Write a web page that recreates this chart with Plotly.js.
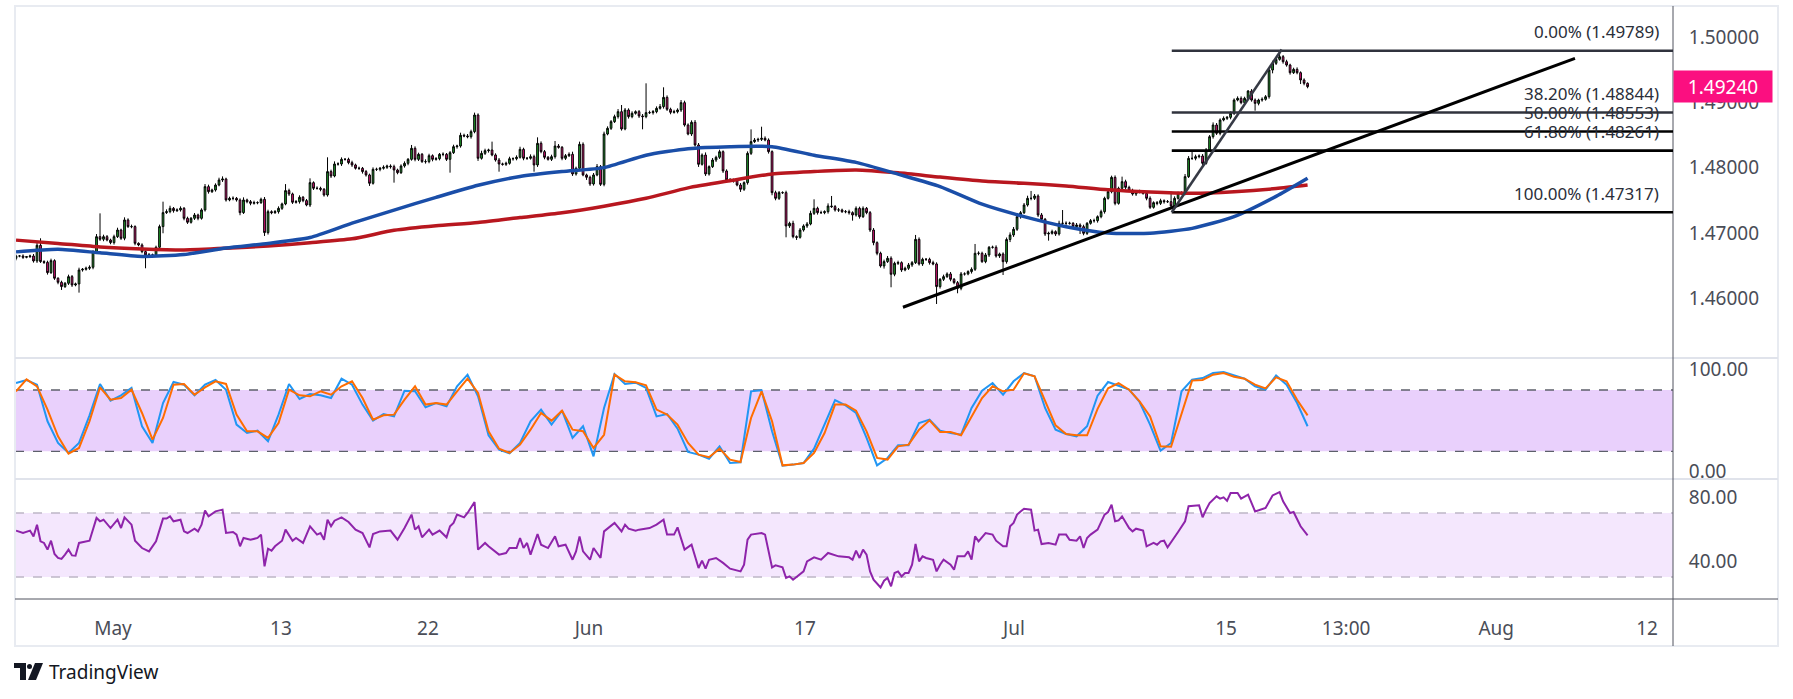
<!DOCTYPE html>
<html>
<head>
<meta charset="utf-8">
<script src="https://cdn.plot.ly/plotly-3.0.1.min.js"></script>
<style>html,body{margin:0;padding:0;background:#fff}#chart{width:1793px;height:699px}</style>
</head>
<body>
<div id="chart"></div>
<script>
// ---------------- DATA (4H bars, prices in 1e-5 units above 1.40000) ----------------
const PRICE_BASE = 1.4;
const PRICE_STEP = 0.00001;
const firstOpenRaw = 6611;
const closeRaw = [
6647,6647,6627,6637,6647,6571,6811,6561,6550,6392,
6576,6306,6244,6178,6229,6331,6203,6219,6433,6443,
6459,6474,6714,6943,6903,6943,6892,6852,6943,7045,
6918,7199,7097,7097,6841,6816,6714,6663,6663,6663,
6780,7097,7311,7326,7377,7341,7352,7377,7224,7163,
7224,7275,7224,7352,7709,7632,7658,7734,7811,7826,
7505,7530,7530,7505,7311,7505,7479,7454,7464,7464,
7515,7005,7326,7311,7326,7377,7444,7648,7597,7469,
7479,7546,7495,7428,7770,7683,7683,7668,7581,7939,
7872,8056,8056,8127,8127,8076,8041,7990,7990,7939,
7888,7760,7974,7974,7990,8005,8025,8015,7964,7923,
8025,8066,8127,8296,8127,8204,8092,8092,8183,8127,
8137,8204,8204,8127,8229,8321,8331,8495,8485,8474,
8551,8806,8143,8219,8260,8270,8194,8117,8056,8051,
8066,8137,8137,8158,8280,8143,8143,8168,8041,8372,
8245,8158,8127,8168,8331,8311,8143,8183,8204,7903,
7990,8357,7888,7852,7750,7888,8015,7744,8515,8602,
8704,8781,8857,8592,8883,8781,8832,8857,8791,8781,
8842,8842,8857,8908,8934,9076,8893,8847,8856,8883,
8995,8653,8515,8694,8347,8051,8193,7903,8015,8117,
8158,8244,7949,7811,7811,7801,7734,7668,7770,8219,
8398,8423,8433,8449,8423,8245,7617,7530,7617,7617,
7107,7147,6943,6933,7045,7107,7137,7300,7377,7311,
7311,7326,7413,7403,7352,7352,7326,7326,7311,7275,
7377,7249,7377,7311,7045,6851,6688,6494,6561,6612,
6367,6535,6545,6433,6459,6510,6545,6902,6525,6596,
6596,6545,6525,6178,6290,6331,6372,6290,6239,6152,
6372,6372,6408,6443,6688,6688,6561,6663,6780,6780,
6647,6678,6560,6900,6969,7056,7249,7310,7428,7530,
7530,7566,7275,7209,6984,6994,7020,6984,7147,7147,
7147,7147,7096,7122,7096,6994,7147,7188,7188,7249,
7326,7530,7632,7851,7453,7683,7785,7698,7647,7596,
7632,7632,7606,7530,7392,7464,7453,7494,7479,7479,
7413,7530,7607,7607,7862,8142,8142,8168,8178,8066,
8270,8474,8653,8525,8729,8755,8770,8831,9035,9061,
8995,9061,9173,9035,8984,9035,9046,9086,9495,9597,
9658,9699,9622,9571,9454,9505,9454,9342,9291,9240
];
const upWickRaw = [
20,15,25,10,20,30,40,107,20,25,
30,20,15,25,20,30,25,20,35,20,
25,30,20,40,357,30,25,20,30,35,
20,40,25,30,20,15,25,20,30,20,
25,30,168,35,40,20,25,30,20,25,
20,30,20,25,40,30,20,25,35,40,
20,25,30,20,25,40,20,25,30,20,
25,35,30,20,25,30,20,100,30,20,
25,30,20,25,66,20,30,25,20,219,
30,40,25,30,20,25,30,20,25,20,
25,20,30,25,20,30,20,25,30,20,
25,30,20,51,30,25,20,35,30,20,
25,20,30,20,25,30,20,40,25,30,
30,36,25,40,30,20,128,25,30,20,
25,30,20,30,40,25,20,35,30,92,
30,25,20,30,77,30,20,25,30,40,
25,41,30,20,25,30,40,25,36,30,
25,30,40,102,30,25,30,20,25,30,
449,30,25,30,40,154,30,25,30,25,
40,30,25,30,35,30,25,40,20,30,
25,30,20,25,30,20,25,30,20,30,
188,30,25,178,30,25,20,30,25,20,
30,25,40,20,30,25,30,40,138,25,
30,20,40,153,25,30,20,25,30,20,
30,25,30,20,25,30,20,25,30,35,
30,25,30,20,25,30,25,67,30,25,
20,25,30,25,20,30,25,30,20,25,
30,25,20,30,143,30,25,30,20,25,
30,20,25,30,40,35,30,25,30,40,
113,30,25,30,20,25,30,20,40,204,
30,25,20,30,25,30,20,25,30,20,
30,25,40,26,30,25,77,30,25,30,
25,30,20,25,30,20,25,30,20,25,
153,30,25,30,40,35,102,30,25,30,
30,25,40,30,25,30,20,30,25,30,
30,25,15,30,25,20,30,25,30,40,
30,90,25,30,20,25,30,20,25,15
];
const downWickRaw = [
30,20,25,15,20,25,30,20,25,30,
20,25,30,51,20,25,30,20,133,25,
20,25,30,20,25,30,20,25,30,20,
25,30,20,25,30,20,25,204,30,25,
30,25,102,20,25,30,20,25,30,25,
20,25,30,20,25,30,20,25,20,30,
25,20,30,25,40,20,25,30,20,25,
20,51,30,25,20,30,25,20,30,25,
20,30,25,20,30,25,20,30,25,25,
30,20,25,30,20,25,30,20,25,30,
25,40,20,25,30,20,25,30,194,25,
20,25,30,20,30,25,20,30,25,30,
20,25,30,25,204,20,30,25,20,25,
30,25,40,20,25,30,20,25,118,20,
25,20,30,25,20,30,25,20,103,30,
25,30,20,25,30,20,30,25,20,30,
25,30,20,40,30,25,20,25,30,20,
25,20,30,25,20,30,25,20,30,194,
25,20,30,25,20,30,25,30,20,25,
30,25,20,30,25,40,20,30,25,20,
30,25,30,20,25,30,20,40,25,30,
25,20,30,25,20,30,40,30,25,20,
174,30,25,40,20,25,30,20,25,30,
20,25,30,20,25,30,20,25,30,87,
25,30,20,25,30,40,30,25,40,20,
199,30,25,30,20,25,30,20,25,30,
25,30,20,266,30,25,20,30,25,76,
30,25,20,30,25,30,20,25,30,20,
25,30,204,30,40,30,25,30,20,25,
30,25,30,25,30,102,20,30,25,30,
25,20,30,25,112,30,25,20,30,30,
25,30,20,25,30,20,25,30,20,25,
30,25,20,30,25,20,30,25,30,20,
25,30,20,25,30,20,25,30,25,30,
20,25,30,25,30,20,25,30,25,20,
25,30,20,25,112,30,25,20,30,51,
25,20,30,25,30,20,25,62,30,25
];

// Moving averages (read at sampled bars)
const maIdx   = [0,12,24,36,48,60,72,84,96,108,120,132,144,156,168,180,192,204,216,228,240,252,264,276,288,300,312,324,336,348,360,369];
const maBlueRaw = [6710,6750,6695,6640,6670,6770,6840,6930,7150,7350,7545,7730,7865,7940,8000,8190,8290,8321,8321,8190,8080,7900,7710,7440,7250,7096,7000,6995,7070,7250,7560,7837];
const maRedRaw  = [6890,6840,6785,6755,6740,6765,6800,6850,6910,7040,7110,7160,7235,7310,7410,7530,7690,7800,7903,7940,7964,7920,7855,7795,7760,7719,7660,7625,7607,7632,7680,7734];

// Stochastic RSI, sampled every 3rd bar
const STOCH_STEP = 3;
const stochK = [
86.8,89.8,85.2,49.4,28.2,18.4,28.2,55.2,85.9,69.6,
74.8,82.0,44.5,28.2,67.3,87.8,85.2,74.8,85.2,89.8,
80.3,46.1,37.9,40.2,29.8,55.9,85.9,71.2,76.1,74.8,
72.2,91.1,85.2,65.7,50.0,56.5,54.2,79.3,78.7,63.0,
67.3,64.0,83.6,95.0,73.8,35.7,21.6,18.1,28.2,49.4,
60.8,46.1,59.8,33.1,44.5,15.1,62.4,95.6,85.9,87.2,
82.0,54.2,56.5,42.2,19.4,16.8,12.8,24.9,8.6,9.3,
78.7,79.7,39.6,6.0,7.0,8.6,22.6,46.7,70.2,65.0,
57.5,33.1,6.3,13.5,25.9,25.9,47.7,51.0,40.2,37.9,
36.3,62.4,79.3,86.8,75.4,88.5,96.6,93.4,62.4,41.2,
37.0,34.7,44.5,74.5,87.8,84.2,80.3,68.3,46.1,20.7,
28.2,78.7,90.1,91.7,96.6,97.6,94.3,91.1,83.6,80.3,
94.3,85.2,67.3,44.5
];
const stochD = [
78.7,90.4,83.6,60.8,34.7,17.7,23.3,49.4,82.6,70.5,
72.2,80.3,57.5,31.4,52.6,85.2,85.9,75.4,82.6,88.5,
85.9,55.9,39.6,39.6,33.1,47.7,80.3,74.8,73.8,78.7,
75.4,83.6,88.5,72.2,51.0,55.2,55.9,70.5,83.6,65.7,
67.3,65.7,78.7,91.1,77.1,39.6,22.6,18.4,26.5,41.2,
57.5,50.0,59.8,41.2,39.6,23.3,36.2,95.0,88.5,87.5,
84.6,60.8,55.9,46.1,28.2,16.8,14.2,22.6,11.9,9.6,
52.6,78.7,49.4,6.3,7.0,8.6,18.4,37.9,65.7,65.7,
59.8,39.6,13.5,11.9,24.9,26.5,41.2,50.3,38.9,38.9,
35.7,54.2,72.2,83.6,78.7,80.3,96.3,93.4,68.9,45.4,
37.0,35.7,35.7,61.5,81.6,86.8,80.3,68.9,54.2,24.9,
24.5,57.5,89.2,89.8,95.0,96.6,93.0,91.1,85.2,81.6,
92.4,88.5,70.5,55.2
];

// RSI vertices (bar index, value)
const rsiIdx = [0,2,4,5,6,7,8,9,10,11,12,13,14,15,16,17,18,21,23,24,25,27,29,30,31,33,34,36,38,40,42,43,44,45,47,48,49,51,52,53,54,55,57,59,60,62,63,64,65,67,69,70,71,72,73,74,76,77,79,80,82,84,86,87,88,89,90,91,93,95,97,99,101,102,104,107,109,111,113,114,115,116,118,119,121,123,124,125,126,128,129,131,132,134,135,138,140,141,143,144,145,146,147,149,150,152,154,155,157,159,160,161,162,164,165,167,168,171,173,174,175,177,178,181,183,185,186,188,189,191,193,195,196,197,198,200,202,204,207,208,209,210,213,214,216,217,219,220,221,222,225,226,228,230,232,235,238,239,240,241,242,243,244,245,247,248,249,250,251,252,253,254,255,256,257,258,259,260,262,263,264,265,267,268,269,271,272,273,274,275,277,279,280,282,283,284,285,286,287,288,290,291,292,293,295,297,298,300,301,303,304,305,306,307,309,311,312,313,314,315,316,318,319,320,322,323,325,326,327,328,329,331,332,334,335,338,339,340,341,343,344,345,346,347,349,350,352,354,357,359,361,362,364,365,367,369];
const rsiVal = [59.0,57.5,59.0,55.4,62.7,52.3,51.3,47.1,52.7,44.4,41.9,41.3,44.0,47.1,43.5,43.3,51.3,52.7,66.9,64.8,65.8,60.6,65.8,60.6,67.3,62.7,52.7,48.1,46.0,52.3,66.5,66.5,67.9,64.8,65.8,58.5,57.5,60.2,58.5,62.7,71.5,67.9,71.0,72.1,57.5,58.1,56.5,49.2,54.4,53.3,54.4,56.5,36.7,47.7,46.5,49.2,52.7,59.6,52.7,54.4,51.3,61.7,56.5,57.5,53.3,65.8,61.7,65.2,67.3,64.4,59.6,57.5,48.5,56.9,58.5,59.0,53.3,60.6,69.0,59.6,61.7,54.8,59.6,56.5,59.0,54.8,61.7,63.8,69.0,67.3,70.0,76.9,47.1,51.3,49.2,44.0,45.0,48.1,48.1,54.4,48.1,51.3,44.0,56.9,50.2,48.1,55.4,49.2,50.2,40.8,46.0,55.4,46.0,40.8,48.1,41.9,58.5,63.8,58.5,62.7,60.2,59.0,59.6,60.6,62.7,65.8,56.5,56.5,61.0,47.1,50.2,35.6,40.2,35.2,40.8,41.9,38.8,35.2,33.5,37.7,53.3,56.5,57.5,56.5,36.0,37.3,36.0,29.4,30.4,28.3,33.5,39.8,42.3,40.8,45.0,42.9,42.3,40.8,46.5,41.9,47.1,44.0,33.5,28.3,23.5,27.7,29.4,24.2,32.5,33.5,30.4,32.5,32.5,37.7,50.6,39.8,42.9,41.9,40.8,33.5,37.7,40.8,37.7,34.6,42.9,42.9,46.0,40.8,55.4,52.3,57.5,56.5,52.7,49.2,49.2,61.7,63.8,69.0,71.0,72.7,72.1,59.0,59.6,50.6,51.3,50.2,56.5,56.5,53.3,52.7,55.4,48.1,54.4,56.5,59.6,69.0,70.6,75.2,64.8,65.4,67.9,60.6,58.5,60.2,59.0,49.2,51.3,50.2,52.3,52.7,48.5,54.4,58.1,64.8,74.2,74.8,67.3,72.1,76.2,80.4,79.0,79.8,77.7,82.5,82.5,79.0,81.5,71.0,73.1,81.0,83.1,77.3,70.0,70.6,61.7,56.0];

// Fibonacci retracement and drawings
const fibLevels = [0, 0.382, 0.5, 0.618, 1.0];
const fibPrices = [1.49789, 1.48844, 1.48553, 1.48261, 1.47317];
const fibStartIdx = 330.2;
const trendLong  = {idx: [253.4, 445.4], price: [1.45862, 1.49674]};
const trendSteep = {idx: [330.2, 361.6], price: [1.47317, 1.49810]};

// Axis ticks
const dateTickPos  = [27.7, 75.7, 117.7, 163.7, 225.4, 285.1, 345.7, 380, 422.9, 466];
const dateTickText = ['May','13','22','Jun','17','Jul','15','13:00','Aug','12'];
const priceTicks = [1.46, 1.47, 1.48, 1.49, 1.50];
const stochTicks = [0, 100];
const rsiTicks = [40, 80];

// ---------------- BUILD ----------------
const W = 1793, H = 699;
const PX = p => p / W, PY = p => 1 - p / H;
const toPrice = v => +(PRICE_BASE + v * PRICE_STEP).toFixed(5);

const idx = closeRaw.map((_, i) => i);
const close = closeRaw.map(toPrice);
const open = close.map((c, i) => i === 0 ? toPrice(firstOpenRaw) : close[i - 1]);
const high = close.map((c, i) => Math.max(open[i], c) + upWickRaw[i] * PRICE_STEP);
const low = close.map((c, i) => Math.min(open[i], c) - downWickRaw[i] * PRICE_STEP);
const stochX = stochK.map((_, k) => k * STOCH_STEP);
const lastClose = close[close.length - 1];

const L = 15, R = 1673, RR = 1778;
const xRange = [-0.29, 473.4];

const traces = [
  {type:'candlestick', x: idx, open, high, low, close, xaxis:'x', yaxis:'y',
   increasing:{line:{color:'#000000', width:1}, fillcolor:'#22a62e'},
   decreasing:{line:{color:'#000000', width:1}, fillcolor:'#ec1280'},
   whiskerwidth:0, hoverinfo:'skip'},
  {type:'scatter', mode:'lines', x: maIdx, y: maRedRaw.map(toPrice), xaxis:'x', yaxis:'y',
   line:{color:'#b8171f', width:3.5, shape:'spline', smoothing:0.6}, hoverinfo:'skip'},
  {type:'scatter', mode:'lines', x: maIdx, y: maBlueRaw.map(toPrice), xaxis:'x', yaxis:'y',
   line:{color:'#1a4ea8', width:3.5, shape:'spline', smoothing:0.6}, hoverinfo:'skip'},
  {type:'scatter', mode:'lines', x: stochX, y: stochK, xaxis:'x2', yaxis:'y2',
   line:{color:'#2196f3', width:2}, hoverinfo:'skip'},
  {type:'scatter', mode:'lines', x: stochX, y: stochD, xaxis:'x2', yaxis:'y2',
   line:{color:'#ff6d00', width:2}, hoverinfo:'skip'},
  {type:'scatter', mode:'lines', x: rsiIdx, y: rsiVal, xaxis:'x3', yaxis:'y3',
   line:{color:'#8e24aa', width:2}, hoverinfo:'skip'}
];

const tickFont = {family:'Noto Sans, DejaVu Sans, sans-serif', size:19, color:'#4a4d57'};
const baseX = {domain:[PX(L), PX(R)], range:xRange, showgrid:false, zeroline:false, showline:false,
  showticklabels:false, fixedrange:true};
const baseY = {side:'right', showgrid:false, zeroline:false, showline:false, ticks:'outside',
  ticklen:11, tickcolor:'rgba(0,0,0,0)', tickfont:tickFont, fixedrange:true};

const shapes = [];
// indicator bands
shapes.push({type:'rect', xref:'paper', yref:'y2', x0:PX(L), x1:PX(R), y0:20, y1:80,
  fillcolor:'#e9d0fc', line:{width:0}, layer:'below'});
[80, 20].forEach(v => shapes.push({type:'line', xref:'paper', yref:'y2', x0:PX(L), x1:PX(R), y0:v, y1:v,
  line:{color:'#5d606b', width:1.3, dash:'dash'}, layer:'below'}));
shapes.push({type:'rect', xref:'paper', yref:'y3', x0:PX(L), x1:PX(R), y0:30, y1:70,
  fillcolor:'#f4e7fd', line:{width:0}, layer:'below'});
[70, 30].forEach(v => shapes.push({type:'line', xref:'paper', yref:'y3', x0:PX(L), x1:PX(R), y0:v, y1:v,
  line:{color:'#bdb6c6', width:1.3, dash:'dash'}, layer:'below'}));
// panel frame
shapes.push({type:'rect', xref:'paper', yref:'paper', x0:PX(L), x1:PX(RR), y0:PY(646), y1:PY(6),
  line:{color:'#e8ebf1', width:2}, fillcolor:'rgba(0,0,0,0)'});
[358, 479].forEach(p => shapes.push({type:'line', xref:'paper', yref:'paper', x0:PX(L), x1:PX(RR), y0:PY(p), y1:PY(p),
  line:{color:'#e0e3eb', width:2}}));
shapes.push({type:'line', xref:'paper', yref:'paper', x0:PX(R), x1:PX(R), y0:PY(646), y1:PY(6),
  line:{color:'#50535e', width:1}});
shapes.push({type:'line', xref:'paper', yref:'paper', x0:PX(L), x1:PX(RR), y0:PY(599), y1:PY(599),
  line:{color:'#50535e', width:1}});
// fib lines
fibPrices.forEach((p, k) => shapes.push({type:'line', xref:'x', yref:'y', x0:fibStartIdx, x1:xRange[1], y0:p, y1:p,
  line:{color: k < 2 ? '#30333d' : '#000000', width:2.6}}));
// trend lines
shapes.push({type:'line', xref:'x', yref:'y', x0:trendLong.idx[0], x1:trendLong.idx[1],
  y0:trendLong.price[0], y1:trendLong.price[1], line:{color:'#000000', width:3}});
shapes.push({type:'line', xref:'x', yref:'y', x0:trendSteep.idx[0], x1:trendSteep.idx[1],
  y0:trendSteep.price[0], y1:trendSteep.price[1], line:{color:'#363a45', width:2.6}});
// TradingView logo glyph
const P = (x, y) => `${PX(x)},${PY(y)}`;
shapes.push({type:'path', xref:'paper', yref:'paper', fillcolor:'#131722', line:{width:0},
  path:`M${P(14,663)} L${P(26,663)} L${P(26,680)} L${P(20,680)} L${P(20,668)} L${P(14,668)} Z`});
shapes.push({type:'circle', xref:'paper', yref:'paper', fillcolor:'#131722', line:{width:0},
  x0:PX(27), x1:PX(32), y0:PY(669), y1:PY(664)});
shapes.push({type:'path', xref:'paper', yref:'paper', fillcolor:'#131722', line:{width:0},
  path:`M${P(35,663)} L${P(43,663)} L${P(36,680)} L${P(28,680)} Z`});

const annotations = [];
fibPrices.forEach((p, k) => annotations.push({xref:'paper', yref:'y', x:PX(1661), y:p, xanchor:'right',
  yanchor:'middle', yshift:19, showarrow:false,
  text:`${(fibLevels[k] * 100).toFixed(2)}% (${p.toFixed(5)})`,
  font:{family:'Noto Sans, DejaVu Sans, sans-serif', size:17, color:'#2a2e39'}}));
annotations.push({xref:'paper', yref:'y', x:PX(R), y:lastClose, xanchor:'left', yanchor:'middle',
  showarrow:false, text:lastClose.toFixed(5), bgcolor:'#fb0f80', borderpad:2, width:94, height:27,
  align:'center', font:{family:'Noto Sans, DejaVu Sans, sans-serif', size:19, color:'#ffffff'}});
annotations.push({xref:'paper', yref:'paper', x:PX(47), y:PY(672), xanchor:'left', yanchor:'middle',
  showarrow:false, text:'TradingView', font:{family:'Noto Sans, DejaVu Sans, sans-serif', size:19, color:'#131722'}});

const layout = {
  width:W, height:H, margin:{l:0, r:0, t:0, b:0}, paper_bgcolor:'#ffffff', plot_bgcolor:'rgba(0,0,0,0)',
  showlegend:false, hovermode:false, dragmode:false,
  font:{family:'Noto Sans, DejaVu Sans, sans-serif', color:'#131722'},
  xaxis: Object.assign({}, baseX, {anchor:'y', rangeslider:{visible:false}}),
  xaxis2: Object.assign({}, baseX, {anchor:'y2'}),
  xaxis3: Object.assign({}, baseX, {anchor:'y3', showticklabels:true, tickmode:'array',
    tickvals:dateTickPos, ticktext:dateTickText, ticks:'outside', ticklen:12, tickcolor:'rgba(0,0,0,0)',
    tickfont:tickFont}),
  yaxis: Object.assign({}, baseY, {anchor:'x', domain:[PY(358), PY(6)], range:[1.45085, 1.50475],
    tickmode:'array', tickvals:priceTicks, ticktext:priceTicks.map(v => v.toFixed(5))}),
  yaxis2: Object.assign({}, baseY, {anchor:'x2', domain:[PY(479), PY(358)], range:[-7.07, 111.3],
    tickmode:'array', tickvals:stochTicks, ticktext:stochTicks.map(v => v.toFixed(2))}),
  yaxis3: Object.assign({}, baseY, {anchor:'x3', domain:[PY(599), PY(479)], range:[16.25, 91.25],
    tickmode:'array', tickvals:rsiTicks, ticktext:rsiTicks.map(v => v.toFixed(2))}),
  shapes, annotations
};

Plotly.newPlot('chart', traces, layout, {displayModeBar:false, staticPlot:true});
</script>
</body>
</html>
